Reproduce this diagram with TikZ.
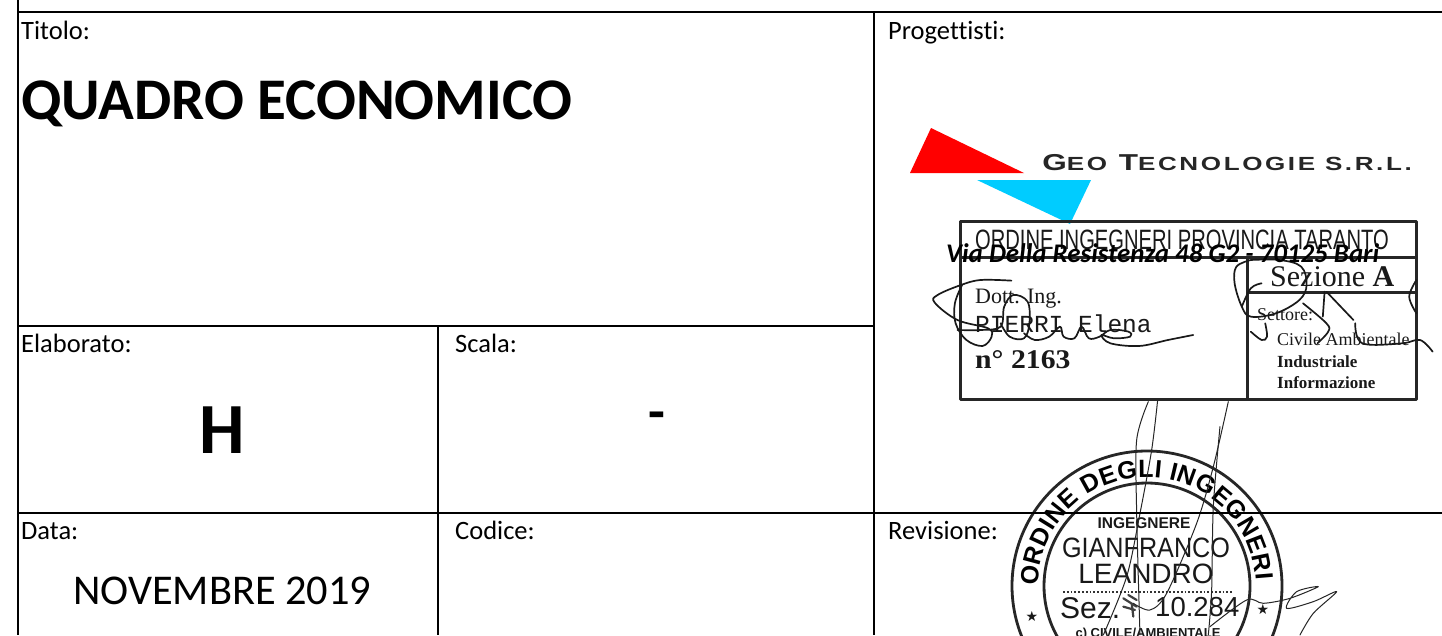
\documentclass[tikz,border=0pt]{standalone}
\usepackage{fontspec}
\usetikzlibrary{decorations.text}
\setmainfont[Ligatures=NoCommon]{Carlito}
\newfontfamily\arialf{Liberation Sans}
\newfontfamily\serf{Liberation Serif}
\newfontfamily\monof{Liberation Mono}
\newfontfamily\djv{DejaVu Sans}
\newfontfamily\wideb[LetterSpace=10]{Liberation Sans}
\newcommand{\fsz}[1]{\fontsize{#1}{#1}\selectfont}
\definecolor{logoblue}{RGB}{0,204,255}
\tikzset{
  lbl/.style={anchor=base west,inner sep=0pt,font=\fsz{26.5}},
  rule/.style={line width=2.7pt,black},
  sign/.style={line width=1.7pt,black!90,line cap=round,line join=round},
  signthin/.style={line width=1pt,black!85,line cap=round,line join=round},
  stamptxt/.style={anchor=base west,inner sep=0pt,black!90},
  sealtxt/.style={anchor=base,inner sep=0pt,black!90},
  boxline/.style={line width=3pt,black!85,line join=round}
}
\begin{document}
\begin{tikzpicture}[x=1pt,y=-1pt]
\useasboundingbox (0,0) rectangle (1442,635);
\clip (0,0) rectangle (1442,635);
\fill[white] (0,0) rectangle (1442,635);

% logo
\fill[red] (910,173) -- (931,128) -- (1024,173) -- cycle;
\fill[logoblue] (977,180) -- (1091,180) -- (1070,224) -- cycle;
\node[anchor=base west,inner sep=0pt,xscale=1.37,black!85] (geo) at (1042,170) {\wideb\bfseries\fsz{23}G{\fsz{19}EO} T{\fsz{19}ECNOLOGIE S.R.L.}};

% stamp 1
\draw[boxline] (960,221) rectangle (1416,399);
\draw[boxline] (960,257) -- (1416,257);
\draw[boxline] (1247,257) -- (1247,399);
\draw[boxline] (1247,292) -- (1416,292);
\node[stamptxt,xscale=.72] (ordine) at (975,249) {\arialf\fsz{28}ORDINE INGEGNERI PROVINCIA TARANTO};
\node[stamptxt] (dott) at (975,303) {\serf\fsz{22}Dott. Ing.};
\node[stamptxt] (pieri) at (975,332) {\monof\fsz{24.5}PIERRI Elena};
\node[stamptxt,xscale=1.1] (num) at (975,368) {\serf\bfseries\fsz{27}n° 2163};
\node[stamptxt] (sez) at (1270,286) {\serf\fsz{30}Sezione \textbf{A}};
\node[stamptxt] (sett) at (1257,320) {\serf\fsz{18}Settore:};
\node[stamptxt] (civ) at (1277,345) {\serf\fsz{18}Civile Ambientale};
\node[stamptxt] (ind) at (1277,367) {\serf\bfseries\fsz{17}Industriale};
\node[stamptxt] (inf) at (1277,388) {\serf\bfseries\fsz{17}Informazione};

% signatures over stamp 1
\begin{scope}[shift={(880,110)},x=.36pt,y=-.3333pt]
\draw[sign] plot[smooth,tension=.6] coordinates {(365,512)(280,510)(225,525)(160,555)(152,578)(215,630)(300,655)(310,680)(285,708)(240,690)(210,640)(208,580)(228,525)};
\draw[sign] plot[smooth,tension=.6] coordinates {(215,660)(280,660)(335,650)(345,590)(370,555)(410,575)(415,640)(400,685)(360,680)(335,640)};
\draw[sign] plot[smooth,tension=.6] coordinates {(400,670)(430,690)(470,680)(500,650)(510,680)(540,685)(560,650)(580,685)(610,680)(640,660)(690,665)(695,680)(650,685)(615,675)(640,700)(720,708)(800,690)(870,675)};
\draw[sign] plot[smooth,tension=.6] coordinates {(1030,450)(990,470)(985,520)(1005,590)(1030,620)(1100,610)(1165,570)(1185,525)(1170,470)(1110,450)(1030,450)};
\draw[sign] plot[smooth,tension=.6] coordinates {(1060,520)(1030,535)(1005,590)};
\draw[sign] plot[smooth,tension=.6] coordinates {(1070,640)(1075,680)(1060,690)(1030,665)};
\draw[sign] (1235,545) -- (1230,620);
\draw[sign] (1240,545) -- (1315,630);
\draw[sign] plot[smooth,tension=.6] coordinates {(1175,580)(1240,640)(1245,665)(1215,700)};
\draw[sign] plot[smooth,tension=.6] coordinates {(1320,640)(1340,700)(1450,700)(1500,690)(1535,725)};
\draw[sign] plot[smooth,tension=.6] coordinates {(1490,510)(1470,560)(1490,610)};
\end{scope}

% seal
\coordinate (sc) at (1147,586);
\draw[line width=2.8pt,black!85] (sc) circle[radius=135pt];
\draw[line width=2.8pt,black!85] (sc) circle[radius=103pt];
\path[decorate,decoration={text along path,text align={fit to path},text={|\arialf\bfseries\fsz{25}|ORDINE DEGLI INGEGNERI}}]
  (sc) ++(180:109pt) arc[start angle=180,end angle=3,radius=109pt];
\node[sealtxt] (s1) at (1144,528) {\arialf\bfseries\fsz{15.5}INGEGNERE};
\node[sealtxt,xscale=.9] (s2) at (1146,557) {\arialf\fsz{28}GIANFRANCO};
\node[sealtxt] (s3) at (1146,583) {\arialf\fsz{28}LEANDRO};
\draw[line width=1.8pt,black!80,dotted] (1063,592) -- (1232,592);
\node[stamptxt] (s4) at (1060,618) {\arialf\fsz{30}Sez.};
\node[stamptxt] (s5) at (1155,616) {\arialf\fsz{27.5}10.284};
\node[sealtxt] (s6) at (1148,637) {\arialf\bfseries\fsz{13}c) CIVILE/AMBIENTALE};
\node[sealtxt] (st1) at (1032,621) {\djv\fsz{14}★};
\node[sealtxt] (st2) at (1263,614) {\djv\fsz{14}★};
\begin{scope}[shift={(980,390)},x=.3333pt,y=-.3333pt]
\draw[line width=2.2pt,black!75,line cap=round] (430,625) -- (470,650) (445,615) -- (470,630) (430,650) -- (465,660) (455,640) -- (460,680);
\draw[signthin] plot[smooth,tension=.5] coordinates {(505,35)(470,150)(470,370)(480,735)};
\draw[signthin] plot[smooth,tension=.5] coordinates {(533,30)(515,180)(480,370)(440,560)(370,735)};
\draw[signthin] plot[smooth,tension=.5] coordinates {(745,35)(700,230)(650,400)(560,610)(510,660)(460,640)};
\draw[signthin] plot[smooth,tension=.5] coordinates {(720,110)(700,350)(695,600)(685,735)};
\draw[signthin] plot[smooth,tension=.5] coordinates {(690,710)(800,630)(850,640)(930,625)(1015,590)(950,605)(920,655)(1000,635)(1070,605)(1000,670)(960,735)};
\end{scope}

% table rules
\draw[rule] (18,0) -- (18,635);
\draw[rule] (18,12) -- (1442,12);
\draw[rule] (874,12) -- (874,635);
\draw[rule] (18,326) -- (874,326);
\draw[rule] (438,326) -- (438,635);
\draw[rule] (18,513) -- (1442,513);

% labels
\node[lbl] (titolo) at (21,39) {Titolo:};
\node[lbl] (prog) at (888,39) {Progettisti:};
\node[lbl] (elab) at (21,352) {Elaborato:};
\node[lbl] (scala) at (455,352) {Scala:};
\node[lbl] (data) at (21,539) {Data:};
\node[lbl] (codice) at (455,539) {Codice:};
\node[lbl] (rev) at (888,539) {Revisione:};
\node[lbl,font=\fsz{59}\bfseries] (quadro) at (21,119) {QUADRO ECONOMICO};
\node[lbl,font=\fsz{72}\bfseries,anchor=base] (h) at (222,453) {H};
\node[lbl,font=\fsz{55}\bfseries,anchor=base] (dash) at (657,430) {-};
\node[lbl,font=\fsz{42.4}] (nov) at (73,604) {NOVEMBRE 2019};
\node[lbl,font=\fsz{26.9}\bfseries\itshape] (via) at (946,262) {Via Della Resistenza 48 G2 - 70125 Bari};
\end{tikzpicture}
\end{document}
